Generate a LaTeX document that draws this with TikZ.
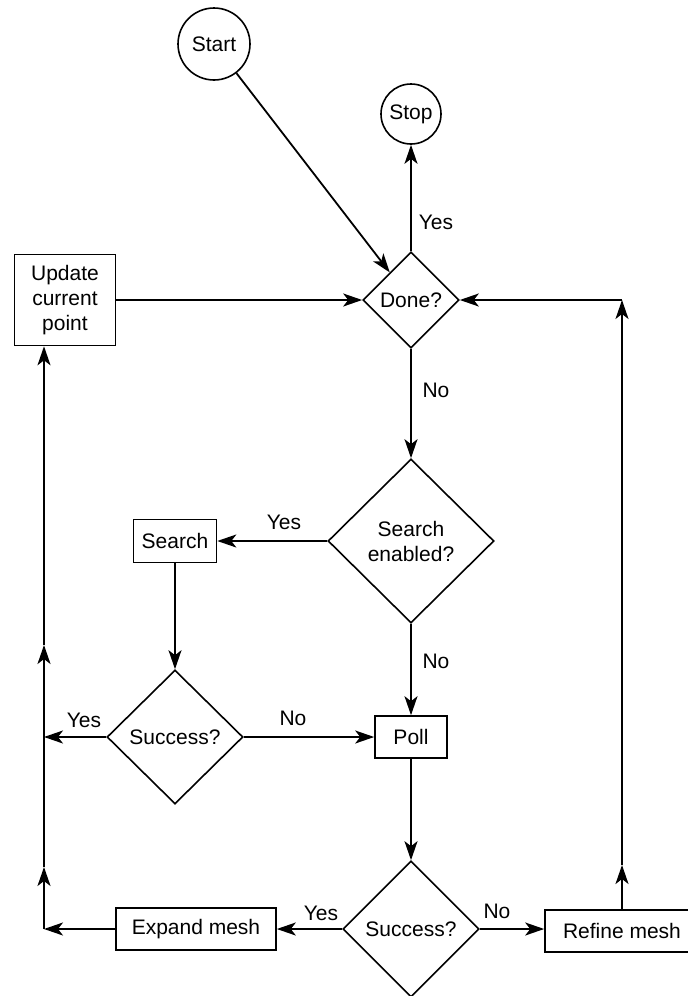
\documentclass[tikz,border=0pt]{standalone}
\usepackage{fontspec}
\setmainfont{Liberation Sans}
\usetikzlibrary{arrows.meta,shapes.geometric}
\newcommand{\flowfont}{\fontsize{21}{25}\selectfont}

\begin{document}
\begin{tikzpicture}[
  x=1pt,y=-1pt,
  term/.style={draw, circle, line width=1.6pt, inner sep=0pt, font=\flowfont},
  box/.style={draw, rectangle, line width=1.6pt, align=center, inner sep=0pt, font=\flowfont},
  test/.style={draw, diamond, line width=1.6pt, align=center, inner sep=0pt, font=\flowfont},
  lab/.style={inner sep=0pt, font=\flowfont},
  arr/.style={-{Stealth[length=19pt,width=13pt,inset=5pt]}, line width=1.8pt}
]
\useasboundingbox (0,0) rectangle (688,996);
\node[term, minimum size=72] (start) at (214,44) {Start};
\node[term, minimum size=60] (stop) at (411,114) {Stop};
\node[test, minimum width=96, minimum height=96] (done) at (411,300) {Done?};
\node[box, minimum width=101, minimum height=91] (update) at (65,300) {Update\\current\\point};
\node[test, minimum width=166, minimum height=164] (enabled) at (411,541) {Search\\enabled?};
\node[box, minimum width=83, minimum height=43] (search) at (175,541) {Search};
\node[test, minimum width=136, minimum height=134] (succA) at (175,737) {Success?};
\node[box, minimum width=72, minimum height=42] (poll) at (411,737) {Poll};
\node[test, minimum width=136, minimum height=136] (succB) at (411,929) {Success?};
\node[box, minimum width=160, minimum height=42] (expand) at (196,929) {Expand mesh};
\node[box, minimum width=154, minimum height=42] (refine) at (622,931) {Refine mesh};
\coordinate (lb) at (44,929);
\coordinate (lm1) at (44,867);
\coordinate (lm2) at (44,645);
\coordinate (lt) at (update.south -| lb);
\coordinate (la) at (lb |- succA);
\coordinate (rm) at (622,865);
\coordinate (rt) at (refine |- done);
\node[lab] (yesStop) at (436,222) {Yes};
\node[lab] (noDone) at (436,390) {No};
\node[lab] (yesSearch) at (284,522) {Yes};
\node[lab] (noPoll) at (436,661) {No};
\node[lab] (yesLeft) at (84,720) {Yes};
\node[lab] (noRight) at (293,718) {No};
\node[lab] (yesExpand) at (321,913) {Yes};
\node[lab] (noRefine) at (497,911) {No};
\draw[arr] (start) -- (done); \draw[arr] (done) -- (stop); \draw[arr] (update) -- (done);
\draw[arr] (done) -- (enabled); \draw[arr] (enabled) -- (search); \draw[arr] (enabled) -- (poll);
\draw[arr] (search) -- (succA); \draw[arr] (succA) -- (poll); \draw[arr] (succA) -- (la);
\draw[arr] (poll) -- (succB); \draw[arr] (succB) -- (expand); \draw[arr] (succB.east) -- (succB.east -| refine.west);
\draw[arr] (expand) -- (lb); \draw[arr] (lb) -- (lm1); \draw[arr] (lm1) -- (lm2); \draw[arr] (lm2) -- (lt);
\draw[arr] (refine.north) -- (rm); \draw[arr] (rm) -- (rt); \draw[arr] (rt) -- (done);
\end{tikzpicture}
\end{document}
